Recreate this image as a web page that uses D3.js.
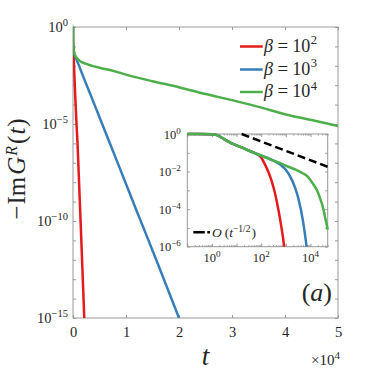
<!DOCTYPE html>
<html>
<head>
<meta charset="utf-8">
<script src="https://cdn.jsdelivr.net/npm/d3@7"></script>
<style>
body { margin: 0; background: #fff; }
svg { display: block; }
text { font-family: "Liberation Serif", serif; fill: #262626; }
</style>
</head>
<body>
<div id="chart"></div>
<script>
// Values (t, -Im G^R(t))
var redT = [0.1, 0.3, 1, 1.6, 2.5, 4, 6.3, 10, 25, 63, 100, 140, 200, 270, 355, 430, 630, 870, 1000, 1500, 2130];
var redV = [1, 1, 0.98, 0.87, 0.63, 0.44, 0.32, 0.25, 0.148, 0.089, 5.6e-2, 2.5e-2, 8.9e-3, 2.9e-3, 7.9e-4, 2.5e-4, 1.6e-5, 7.9e-7, 1e-7, 3.2e-11, 1e-15];

var blueT = [0.1, 0.3, 1, 1.6, 2.5, 4, 6.3, 10, 25, 63, 160, 360, 630, 1000, 1780, 2340, 3160, 5130, 8130, 12000, 16000, 20000];
var blueV = [1, 1, 0.98, 0.87, 0.63, 0.44, 0.32, 0.25, 0.148, 0.089, 5.6e-2, 3.5e-2, 2.2e-2, 1.26e-2, 3.5e-3, 1.45e-3, 4.1e-4, 1.8e-5, 1.6e-7, 3.4e-10, 6.3e-13, 1e-15];

var greenT = [0.1, 0.3, 1, 1.6, 2.5, 4, 6.3, 10, 25, 63, 160, 320, 630, 1260, 2500, 5000, 7500, 10000, 15000, 20000, 25000, 30000, 35000, 40000, 45000, 50000];
var greenV = [1, 1, 0.98, 0.87, 0.63, 0.44, 0.32, 0.25, 0.148, 0.089, 5.6e-2, 3.8e-2, 2.7e-2, 1.8e-2, 1.26e-2, 7.9e-3, 5.6e-3, 3.5e-3, 1.6e-3, 7.9e-4, 3.5e-4, 1.7e-4, 7.6e-5, 3.2e-5, 1.6e-5, 7.9e-6];

// O(t^-1/2) guide in the inset
var dashT = [16, 50000];
var dashV = [1, 0.0179];

var betaExp = ["2", "3", "4"];
var seriesColors = ["#e41a1c", "#377eb8", "#4daf4a"];

var mainXTicks = [0, 1e4, 2e4, 3e4, 4e4, 5e4];
var mainYLabelExp = [0, -5, -10, -15];
var insetXLabelExp = [0, 2, 4];
var insetYLabelExp = [0, -2, -4, -6];

// SVG parameter
var svgWidth = 374;
var svgHeight = 374;
var margin = { top: 27, right: 36, bottom: 56, left: 73 };
var chartWidth = svgWidth - margin.left - margin.right;
var chartHeight = svgHeight - margin.top - margin.bottom;

var axisColor = "#999";

var svg = d3.select("#chart").append("svg")
    .attr("width", svgWidth)
    .attr("height", svgHeight);

var defs = svg.append("defs");

var chartGroup = svg.append("g")
    .attr("transform", `translate(${margin.left}, ${margin.top})`);

var xScale = d3.scaleLinear().domain([0, 5e4]).range([0, chartWidth]);
var yScale = d3.scaleLog().domain([1e-15, 1]).range([chartHeight, 0]);

var series = [
    { t: redT, v: redV },
    { t: blueT, v: blueV },
    { t: greenT, v: greenV }
];

// superscripted "10^k" label
addPow = (g, xp, yp, base, exp, size, supSize, supDy, anchor) => {
    var txt = g.append("text")
        .attr("x", xp).attr("y", yp)
        .attr("text-anchor", anchor)
        .attr("font-size", size);
    txt.append("tspan").text(base);
    txt.append("tspan").attr("dy", supDy).attr("font-size", supSize).text(exp);
    return txt;
}

styleAxis = (g) => {
    g.attr("font-family", null).attr("font-size", null);
    g.select(".domain").remove();
    g.selectAll(".tick line").attr("stroke", axisColor);
}

// ---- main axes ----
defs.append("clipPath").attr("id", "clipMain")
    .append("rect").attr("x", 0).attr("y", -3)
    .attr("width", chartWidth).attr("height", chartHeight + 3);

chartGroup.append("rect")
    .attr("width", chartWidth).attr("height", chartHeight)
    .attr("fill", "none").attr("stroke", axisColor);

var yDecades = d3.range(-15, 1).map(k => Math.pow(10, k));

chartGroup.append("g")
    .attr("transform", `translate(0, ${chartHeight})`)
    .call(d3.axisBottom(xScale).tickValues(mainXTicks).tickSize(-3).tickPadding(8.5)
        .tickFormat(d => d / 1e4))
    .call(styleAxis)
    .selectAll("text").attr("font-size", 14.5).attr("fill", "#262626");

chartGroup.append("g")
    .call(d3.axisTop(xScale).tickValues(mainXTicks).tickSize(-3).tickFormat(""))
    .call(styleAxis);

chartGroup.append("g")
    .call(d3.axisLeft(yScale).tickValues(yDecades).tickSize(-3).tickFormat(""))
    .call(styleAxis);

chartGroup.append("g")
    .attr("transform", `translate(${chartWidth}, 0)`)
    .call(d3.axisRight(yScale).tickValues(yDecades).tickSize(-3).tickFormat(""))
    .call(styleAxis);

mainYLabelExp.forEach(k => {
    addPow(chartGroup, -5, yScale(Math.pow(10, k)) + 4.5, "10",
        k < 0 ? "\u2212" + (-k) : String(k), 14.5, 10.5, -6, "end");
});

addPow(svg, 340, 365, "\u00d710", "4", 15, 11, -6, "end");

var mainLine = d3.line()
    .x((d, i) => xScale(d[0]))
    .y(d => yScale(d[1]))
    .curve(d3.curveMonotoneX);

var mainLines = chartGroup.append("g").attr("clip-path", "url(#clipMain)");
series.forEach((s, i) => {
    mainLines.append("path")
        .datum(d3.zip(s.t, s.v))
        .attr("d", mainLine)
        .attr("fill", "none")
        .attr("stroke", seriesColors[i])
        .attr("stroke-width", 2.5)
        .attr("stroke-linejoin", "round");
});

// legend
var legendRows = [46.5, 69.5, 92];
betaExp.forEach((e, i) => {
    var ly = legendRows[i];
    svg.append("line")
        .attr("x1", 240).attr("x2", 262.7).attr("y1", ly).attr("y2", ly)
        .attr("stroke", seriesColors[i]).attr("stroke-width", 2.5);
    var txt = svg.append("text").attr("x", 264).attr("y", ly + 5).attr("font-size", 18);
    txt.append("tspan").attr("font-style", "italic").text("\u03b2");
    txt.append("tspan").attr("dx", 4.5).attr("font-size", 19).text("=");
    txt.append("tspan").attr("dx", 4).text("10");
    txt.append("tspan").attr("dx", 0.5).attr("dy", -7.5).attr("font-size", 12.5).text(e);
});

// axis titles
var yTitle = svg.append("text")
    .attr("transform", "translate(25, 169) rotate(-90)")
    .attr("text-anchor", "middle")
    .attr("font-size", 25);
yTitle.append("tspan").text("\u2212");
yTitle.append("tspan").attr("dx", 1).text("Im");
yTitle.append("tspan").attr("dx", 2).attr("font-style", "italic").text("G");
yTitle.append("tspan").attr("dx", 1).attr("dy", -8).attr("font-size", 16).attr("font-style", "italic").text("R");
yTitle.append("tspan").attr("dx", 2).attr("dy", 8).text("(");
yTitle.append("tspan").attr("dx", 1).attr("font-style", "italic").text("t");
yTitle.append("tspan").attr("dx", 1).text(")");

svg.append("text")
    .attr("x", 205.5).attr("y", 365)
    .attr("text-anchor", "middle")
    .attr("font-size", 27).attr("font-style", "italic")
    .text("t");

var panel = svg.append("text")
    .attr("x", 332).attr("y", 301)
    .attr("text-anchor", "end")
    .attr("font-size", 26);
panel.append("tspan").text("(");
panel.append("tspan").attr("font-style", "italic").text("a");
panel.append("tspan").text(")");

// ---- inset ----
var inset = { left: 187.3, top: 134, width: 140.4, height: 112.7 };
var insetGroup = svg.append("g")
    .attr("transform", `translate(${inset.left}, ${inset.top})`);

var ix = d3.scaleLog().domain([0.1, 5e4]).range([0, inset.width]);
var iy = d3.scaleLog().domain([1e-6, 1]).range([inset.height, 0]);

insetGroup.append("rect")
    .attr("width", inset.width).attr("height", inset.height)
    .attr("fill", "#fff").attr("stroke", axisColor);

defs.append("clipPath").attr("id", "clipInset")
    .append("rect").attr("x", 0).attr("y", -3)
    .attr("width", inset.width + 1.5).attr("height", inset.height + 3);

var ixMajor = d3.range(-1, 5).map(k => Math.pow(10, k));
var ixMinor = [];
d3.range(-1, 5).forEach(k => {
    d3.range(2, 10).forEach(m => {
        var v = m * Math.pow(10, k);
        if (v <= 5e4) ixMinor.push(v);
    });
});
var iyMajor = d3.range(-6, 1).map(k => Math.pow(10, k));

insetGroup.append("g").attr("transform", `translate(0, ${inset.height})`)
    .call(d3.axisBottom(ix).tickValues(ixMajor).tickSize(-3).tickFormat("")).call(styleAxis);
insetGroup.append("g").attr("transform", `translate(0, ${inset.height})`)
    .call(d3.axisBottom(ix).tickValues(ixMinor).tickSize(-1.5).tickFormat("")).call(styleAxis);
insetGroup.append("g")
    .call(d3.axisTop(ix).tickValues(ixMajor).tickSize(-3).tickFormat("")).call(styleAxis);
insetGroup.append("g")
    .call(d3.axisTop(ix).tickValues(ixMinor).tickSize(-1.5).tickFormat("")).call(styleAxis);
insetGroup.append("g")
    .call(d3.axisLeft(iy).tickValues(iyMajor).tickSize(-2.5).tickFormat("")).call(styleAxis);
insetGroup.append("g").attr("transform", `translate(${inset.width}, 0)`)
    .call(d3.axisRight(iy).tickValues(iyMajor).tickSize(-2.5).tickFormat("")).call(styleAxis);

insetXLabelExp.forEach(k => {
    addPow(insetGroup, ix(Math.pow(10, k)), inset.height + 15.5, "10", String(k), 12.5, 9, -5, "middle");
});
insetYLabelExp.forEach(k => {
    addPow(insetGroup, -6.5, iy(Math.pow(10, k)) + 4.5, "10",
        k < 0 ? "\u2212" + (-k) : String(k), 12.5, 9, -5, "end");
});

var insetLine = d3.line()
    .x(d => ix(d[0]))
    .y(d => iy(d[1]))
    .curve(d3.curveMonotoneX);

var insetLines = insetGroup.append("g").attr("clip-path", "url(#clipInset)");
series.forEach((s, i) => {
    insetLines.append("path")
        .datum(d3.zip(s.t, s.v))
        .attr("d", insetLine)
        .attr("fill", "none")
        .attr("stroke", seriesColors[i])
        .attr("stroke-width", 2.5)
        .attr("stroke-linejoin", "round");
});

insetLines.append("path")
    .datum(d3.zip(dashT, dashV))
    .attr("d", d3.line().x(d => ix(d[0])).y(d => iy(d[1])))
    .attr("fill", "none")
    .attr("stroke", "#000")
    .attr("stroke-width", 2.5)
    .attr("stroke-dasharray", "8,4");

// inset legend
svg.append("line")
    .attr("x1", 193.3).attr("x2", 210).attr("y1", 232.3).attr("y2", 232.3)
    .attr("stroke", "#000").attr("stroke-width", 2.5)
    .attr("stroke-dasharray", "11.5,2.5,4,10");

var oTxt = svg.append("text").attr("x", 212).attr("y", 236.5).attr("font-size", 13.5);
oTxt.append("tspan").attr("font-style", "italic").text("O");
oTxt.append("tspan").attr("dx", 3).text("(");
oTxt.append("tspan").attr("font-style", "italic").text("t");
oTxt.append("tspan").attr("dy", -5).attr("font-size", 9.5).text("\u22121/2");
oTxt.append("tspan").attr("dy", 5).attr("dx", 1).text(")");
</script>
</body>
</html>
